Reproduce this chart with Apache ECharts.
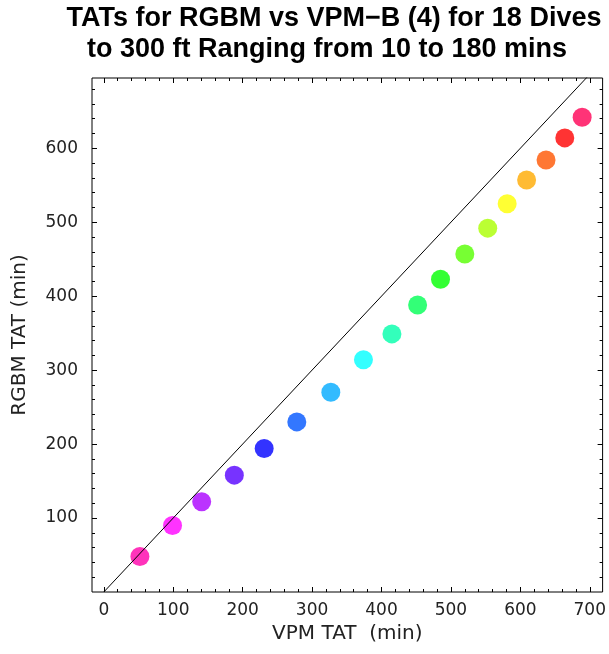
<!DOCTYPE html>
<html>
<head>
<meta charset="utf-8">
<script src="https://cdn.jsdelivr.net/npm/echarts@6/dist/echarts.min.js"></script>
<style>html,body{margin:0;padding:0;background:#fff;}#c{width:609px;height:654px;}</style>
</head>
<body>
<div id="c"></div>
<script>
// VPM-B TAT (x) and RGBM TAT (y), minutes, 18 dives
const vpmTAT  = [52, 99, 141, 188, 231, 278, 327, 374, 415, 452, 485, 520, 553, 581, 609, 637, 664, 689];
const rgbmTAT = [48, 90, 122, 158, 194, 230, 270, 314, 349, 388, 423, 457, 492, 525, 557, 584, 614, 642];
const pointColors = ['#ff00aa','#ff00ff','#aa00ff','#5500ff','#0000ff','#0055ff','#00aaff','#00ffff','#00ffaa',
                     '#00ff55','#00ff00','#55ff00','#aaff00','#ffff00','#ffaa00','#ff5500','#ff0000','#ff0055'];
const xTickLabels = [0, 100, 200, 300, 400, 500, 600, 700];
const yTickLabels = [100, 200, 300, 400, 500, 600];
const refLine = [[0, 0], [720, 720]];
const titleLines = ['TATs for RGBM vs VPM\u2212B (4) for 18 Dives', 'to 300 ft Ranging from 10 to 180 mins'];

const X_MIN = -17, X_MAX = 718.5, Y_MIN = 0, Y_MAX = 695;
function minorOf(lo, hi, step, majors) {
  const out = [];
  for (let v = lo; v <= hi; v += step) if (majors.indexOf(v) < 0) out.push(v);
  return out;
}
const xMinor = minorOf(20, 700, 20, xTickLabels);
const yMinor = minorOf(20, 680, 20, yTickLabels);

const lblFont = { fontFamily: 'DejaVu Sans', fontSize: 17, color: '#222' };
const nameFont = { fontFamily: 'DejaVu Sans', fontSize: 20, color: '#222' };
const titleFont = { fontFamily: 'Liberation Sans', fontWeight: 'bold', fontSize: 27, color: '#000' };

function xAx(pos, ticks, len, labels, name) {
  return {
    type: 'value', position: pos, min: X_MIN, max: X_MAX,
    splitLine: { show: false }, axisLine: { show: false, onZero: false },
    axisTick: { show: true, inside: true, length: len, customValues: ticks, lineStyle: { color: '#000' } },
    axisLabel: labels ? Object.assign({ show: true, customValues: labels, margin: 10 }, lblFont) : { show: false },
    name: name || '', nameLocation: 'middle', nameGap: 32,
    nameTextStyle: nameFont
  };
}
function yAx(pos, ticks, len, labels, name) {
  return {
    type: 'value', position: pos, min: Y_MIN, max: Y_MAX,
    splitLine: { show: false }, axisLine: { show: false, onZero: false },
    axisTick: { show: true, inside: true, length: len, customValues: ticks, lineStyle: { color: '#000' } },
    axisLabel: labels ? Object.assign({ show: true, customValues: labels, margin: 14 }, lblFont) : { show: false },
    name: name || '', nameLocation: 'middle', nameGap: 62, nameRotate: 90,
    nameTextStyle: nameFont
  };
}

const chart = echarts.init(document.getElementById('c'), null, { renderer: 'canvas' });
chart.setOption({
  animation: false,
  backgroundColor: '#fff',
  title: [
    { text: titleLines[0], left: 334, top: 5, textAlign: 'center', padding: 0, textStyle: titleFont },
    { text: titleLines[1], left: 327, top: 36, textAlign: 'center', padding: 0, textStyle: titleFont }
  ],
  grid: { left: 92, top: 78, right: 4, bottom: 62, show: true, borderColor: '#000', borderWidth: 1, backgroundColor: 'transparent' },
  xAxis: [
    xAx('bottom', xTickLabels, 5, xTickLabels, 'VPM TAT  (min)'),
    xAx('bottom', xMinor, 3, null),
    xAx('top', xTickLabels, 5, null),
    xAx('top', xMinor, 3, null)
  ],
  yAxis: [
    yAx('left', yTickLabels, 5, yTickLabels, 'RGBM TAT (min)'),
    yAx('left', yMinor, 3, null),
    yAx('right', yTickLabels, 5, null),
    yAx('right', yMinor, 3, null)
  ],
  series: [
    {
      type: 'scatter', xAxisIndex: 0, yAxisIndex: 0, symbol: 'circle', symbolSize: 19, z: 2,
      data: vpmTAT.map((v, i) => ({ value: [v, rgbmTAT[i]], itemStyle: { color: pointColors[i] } }))
    },
    {
      type: 'line', xAxisIndex: 0, yAxisIndex: 0, data: refLine, showSymbol: false, symbol: 'none', clip: true, z: 3,
      lineStyle: { color: '#000', width: 1 }
    }
  ]
});
</script>
</body>
</html>
